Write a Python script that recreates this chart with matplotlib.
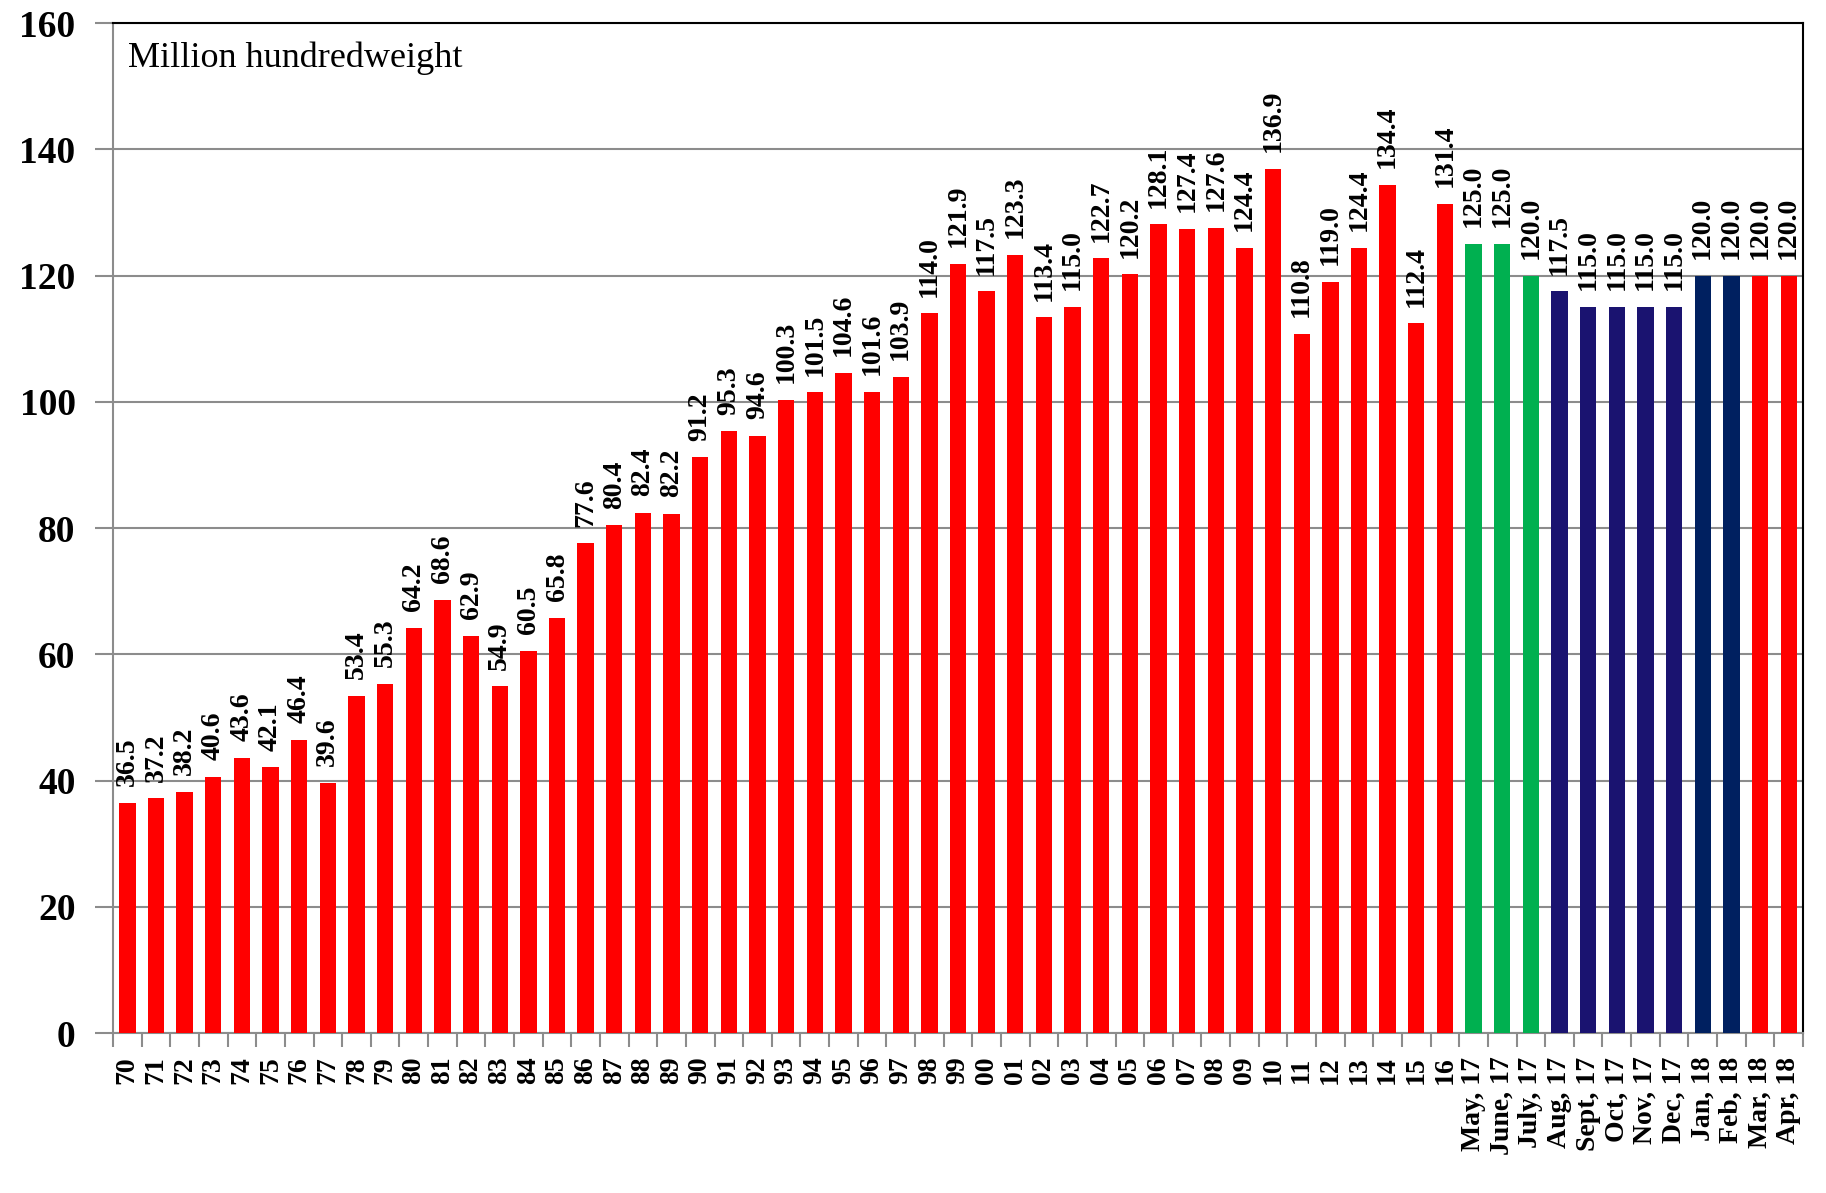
import numpy as np
import matplotlib.pyplot as plt

# ── Data ──────────────────────────────────────────────────────────────────────

years = ["70", "71", "72", "73", "74", "75", "76", "77", "78", "79",
         "80", "81", "82", "83", "84", "85", "86", "87", "88", "89",
         "90", "91", "92", "93", "94", "95", "96", "97", "98", "99",
         "00", "01", "02", "03", "04", "05", "06", "07", "08", "09",
         "10", "11", "12", "13", "14", "15", "16"]
year_vals = [36.5, 37.2, 38.2, 40.6, 43.6, 42.1, 46.4, 39.6, 53.4, 55.3,
             64.2, 68.6, 62.9, 54.9, 60.5, 65.8, 77.6, 80.4, 82.4, 82.2,
             91.2, 95.3, 94.6, 100.3, 101.5, 104.6, 101.6, 103.9, 114.0, 121.9,
             117.5, 123.3, 113.4, 115.0, 122.7, 120.2, 128.1, 127.4, 127.6, 124.4,
             136.9, 110.8, 119.0, 124.4, 134.4, 112.4, 131.4]

months = ["May, 17", "June, 17", "July, 17", "Aug, 17", "Sept, 17", "Oct, 17",
          "Nov, 17", "Dec, 17", "Jan, 18", "Feb, 18", "Mar, 18", "Apr, 18"]
month_vals = [125.0, 125.0, 120.0, 117.5, 115.0, 115.0,
              115.0, 115.0, 120.0, 120.0, 120.0, 120.0]

# ── Style ─────────────────────────────────────────────────────────────────────

RED = "#ff0000"
GREEN = "#00b050"
NAVY = "#1a1370"
DARK_NAVY = "#002060"
GRID = "#8c8c8c"

month_colors = [GREEN] * 3 + [NAVY] * 5 + [DARK_NAVY] * 2 + [RED] * 2

labels = years + months
values = year_vals + month_vals
colors = [RED] * len(years) + month_colors
x = np.arange(len(labels))

plt.rcParams.update({
    "font.family": ["Liberation Serif", "DejaVu Serif"],
})

fig = plt.figure(figsize=(18.26, 11.93), dpi=100)
ax = fig.add_axes([0.0619, 0.1341, 0.9255, 0.8466])

ax.bar(x, values, width=0.57, color=colors, zorder=3)

for xi, v in zip(x, values):
    ax.annotate(f"{v:.1f}", xy=(xi, v), xytext=(0, 12), textcoords="offset points",
                rotation=90, ha="center", va="bottom",
                fontsize=20, fontweight="bold", zorder=4)

ax.set_xlim(-0.5, len(labels) - 0.5)
ax.set_ylim(0, 160)
ax.set_yticks(np.arange(0, 161, 20))
ax.yaxis.grid(True, color=GRID, linewidth=1.5, zorder=0)

# labels centred under bars, tick marks between bars
ax.set_xticks(x)
ax.set_xticklabels(labels, rotation=90, fontsize=20, fontweight="bold")
ax.set_xticks(np.arange(-0.5, len(labels), 1.0), minor=True)
ax.tick_params(axis="x", which="major", length=0, pad=17)
ax.tick_params(axis="x", which="minor", length=10, width=1.5, color=GRID)
ax.tick_params(axis="y", length=13, width=1.5, color=GRID, labelsize=27, pad=14)
for t in ax.get_yticklabels():
    t.set_fontweight("bold")

for side in ["left", "bottom"]:
    ax.spines[side].set_color(GRID)
    ax.spines[side].set_linewidth(1.5)
for side in ["top", "right"]:
    ax.spines[side].set_color("black")
    ax.spines[side].set_linewidth(1.5)

ax.text(0.009, 0.982, "Million hundredweight", transform=ax.transAxes,
        ha="left", va="top", fontsize=26)

plt.savefig("out.png", dpi=100)
